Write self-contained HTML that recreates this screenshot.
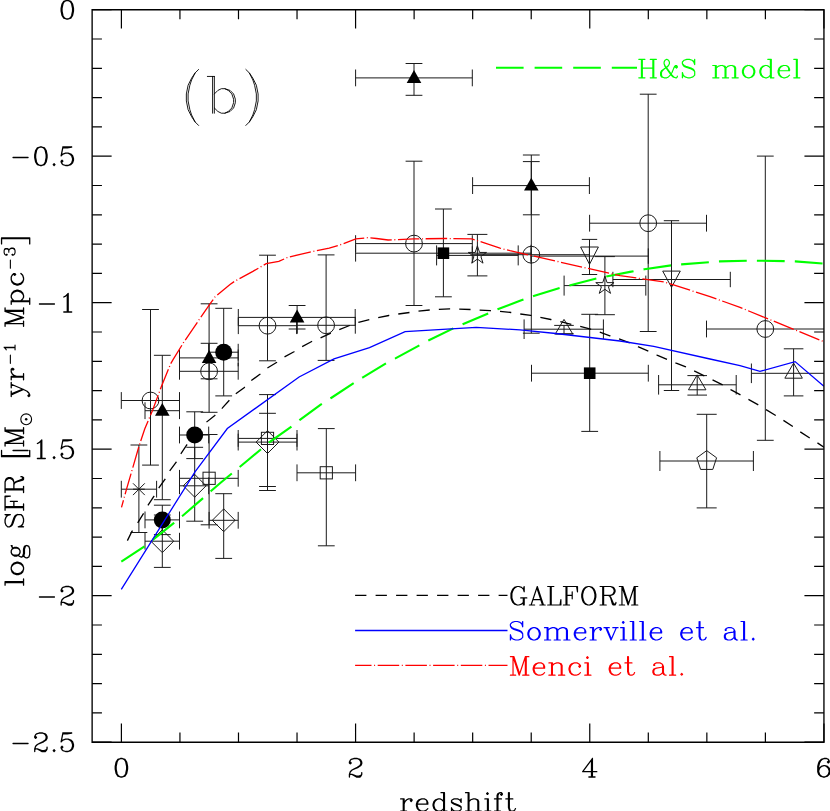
<!DOCTYPE html>
<html><head><meta charset="utf-8"><title>SFR density vs redshift</title>
<style>html,body{margin:0;padding:0;background:#fff;font-family:"Liberation Sans",sans-serif}svg{display:block}</style></head>
<body>
<svg width="830" height="811" viewBox="0 0 830 811">
<rect width="830" height="811" fill="#fff"/>
<defs><clipPath id="c"><rect x="92.13" y="9.7" width="731.81" height="732.5"/></clipPath></defs>
<g clip-path="url(#c)" fill="none">
<path d="M121.3 400.5H179.5M121.3 392.1v16.8M179.5 392.1v16.8M150.5 309.5V465.1M142.1 309.5h16.8M142.1 465.1h16.8M179.5 371.3H238.2M179.5 362.9v16.8M238.2 362.9v16.8M209.1 303.8V412.3M200.7 303.8h16.8M200.7 412.3h16.8M238.3 325.7H296.8M238.3 317.3v16.8M296.8 317.3v16.8M267.5 255.2V360.8M259.1 255.2h16.8M259.1 360.8h16.8M296.8 325.3H355.3M296.8 316.9v16.8M355.3 316.9v16.8M326.1 254.9V360.4M317.7 254.9h16.8M317.7 360.4h16.8M355.6 243.6H472.3M355.6 235.2v16.8M472.3 235.2v16.8M414 161.2V305.5M405.6 161.2h16.8M405.6 305.5h16.8M472.3 254.7H589.4M472.3 246.3v16.8M589.4 246.3v16.8M531.3 161.6V333.2M522.9 161.6h16.8M522.9 333.2h16.8M589.6 223.2H706.5M589.6 214.8v16.8M706.5 214.8v16.8M648.2 94.2V331.5M639.8 94.2h16.8M639.8 331.5h16.8M706.5 329H882M706.5 320.6v16.8M882 320.6v16.8M765.3 156.1V440.3M756.9 156.1h16.8M756.9 440.3h16.8M145 410.7H179.5M145 402.3v16.8M179.5 402.3v16.8M162.3 355.3V499.7M153.9 355.3h16.8M153.9 499.7h16.8M179.5 357.9H238.2M179.5 349.5v16.8M238.2 349.5v16.8M209.1 343.3V378.8M200.7 343.3h16.8M200.7 378.8h16.8M238.3 317.4H355.2M238.3 309v16.8M355.2 309v16.8M297.1 305.5V329M288.7 305.5h16.8M288.7 329h16.8M355.6 77.9H472.3M355.6 69.5v16.8M472.3 69.5v16.8M414 63.5V95.3M405.6 63.5h16.8M405.6 95.3h16.8M472.6 185.6H589.4M472.6 177.2v16.8M589.4 177.2v16.8M531.3 155V214.8M522.9 155h16.8M522.9 214.8h16.8M297.1 329V333.5M208.7 352.2H238.2M208.7 343.8v16.8M238.2 343.8v16.8M223.7 308.3V395.9M215.3 308.3h16.8M215.3 395.9h16.8M179.5 435H208.7M179.5 426.6v16.8M208.7 426.6v16.8M194.7 411.8V458.6M186.3 411.8h16.8M186.3 458.6h16.8M145 519.9H179.5M145 511.5v16.8M179.5 511.5v16.8M162.3 505.2V534.6M153.9 505.2h16.8M153.9 534.6h16.8M355.6 253.2H531M355.6 244.8v16.8M531 244.8v16.8M443.4 209V296.8M435 209h16.8M435 296.8h16.8M531.5 373.2H648.3M531.5 364.8v16.8M648.3 364.8v16.8M589.7 314.3V431.4M581.3 314.3h16.8M581.3 431.4h16.8M179.5 478.3H238.2M179.5 469.9v16.8M238.2 469.9v16.8M209.1 434.5V524.8M200.7 434.5h16.8M200.7 524.8h16.8M238.2 438.4H297M238.2 430v16.8M297 430v16.8M267.5 394.6V486.5M259.1 394.6h16.8M259.1 486.5h16.8M297 472.8H355.6M297 464.4v16.8M355.6 464.4v16.8M326.3 428.6V545.8M317.9 428.6h16.8M317.9 545.8h16.8M145 541.2H179.5M145 532.8v16.8M179.5 532.8v16.8M162.3 515V567.4M153.9 515h16.8M153.9 567.4h16.8M179.5 485.8H208.7M179.5 477.4v16.8M208.7 477.4v16.8M194.7 447.3V521.2M186.3 447.3h16.8M186.3 521.2h16.8M209.1 520.3H238.2M209.1 511.9v16.8M238.2 511.9v16.8M223.7 493.7V558.4M215.3 493.7h16.8M215.3 558.4h16.8M238.2 442.1H297M238.2 433.7v16.8M297 433.7v16.8M267.5 413.3V490.5M259.1 413.3h16.8M259.1 490.5h16.8M121.3 489.2H156.6M121.3 480.8v16.8M156.6 480.8v16.8M138.9 445V532.5M130.5 445h16.8M130.5 532.5h16.8M436.6 255.4H518.2M436.6 245.4v20M518.2 245.4v20M477.4 234.4V275.9M467.4 234.4h20M467.4 275.9h20M564.1 285.6H645.8M564.1 275.6v20M645.8 275.6v20M604.9 256.6V314.7M594.9 256.6h20M594.9 314.7h20M531.2 256.1H648.3M531.2 248.4v15.4M648.3 248.4v15.4M589.5 239.4V274.5M581.8 239.4h15.4M581.8 274.5h15.4M612.9 279.5H730.3M612.9 271.8v15.4M730.3 271.8v15.4M671.5 220.7V390.5M663.8 220.7h15.4M663.8 390.5h15.4M524.1 329.2H603.4M524.1 319.4v19.6M603.4 319.4v19.6M564 325.4V333.8M554.2 325.4h19.6M554.2 333.8h19.6M658.6 384.8H736.2M658.6 375v19.6M736.2 375v19.6M697.2 375.6V395.1M687.4 375.6h19.6M687.4 395.1h19.6M751.4 373.3H882M751.4 363.5v19.6M882 363.5v19.6M793.6 348.8V395.9M783.8 348.8h19.6M783.8 395.9h19.6M659.9 461H753.4M659.9 451v20M753.4 451v20M706.7 414.3V507.9M696.7 414.3h20M696.7 507.9h20" stroke="#1a1a1a" stroke-width="1.0"/>
<g stroke="#1a1a1a" stroke-width="1.0" fill="#fff"></g>
<g stroke="#1a1a1a" stroke-width="1.0" fill="none"><circle cx="150.5" cy="400.5" r="8.4"/><circle cx="209.1" cy="371.3" r="8.4"/><circle cx="267.5" cy="325.7" r="8.4"/><circle cx="326.1" cy="325.3" r="8.4"/><circle cx="414" cy="243.6" r="8.4"/><circle cx="531.3" cy="254.7" r="8.4"/><circle cx="648.2" cy="223.2" r="8.4"/><circle cx="765.3" cy="329" r="8.4"/><rect x="203" y="472.2" width="12.2" height="12.2"/><rect x="261.4" y="432.3" width="12.2" height="12.2"/><rect x="320.2" y="466.7" width="12.2" height="12.2"/><path d="M162.3 529.8L173.7 541.2L162.3 552.6L150.9 541.2Z"/><path d="M194.7 474.4L206.1 485.8L194.7 497.2L183.3 485.8Z"/><path d="M223.7 508.9L235.1 520.3L223.7 531.7L212.3 520.3Z"/><path d="M267.5 430.7L278.9 442.1L267.5 453.5L256.1 442.1Z"/><path d="M133 483.3L144.8 495.1M133 495.1L144.8 483.3M133 489.2H144.8"/><path d="M477.4 245.8L479.56 252.43L486.53 252.43L480.89 256.53L483.04 263.17L477.4 259.07L471.76 263.17L473.91 256.53L468.27 252.43L475.24 252.43Z"/><path d="M604.9 276L607.06 282.63L614.03 282.63L608.39 286.73L610.54 293.37L604.9 289.27L599.26 293.37L601.41 286.73L595.77 282.63L602.74 282.63Z"/><path d="M580.6 247L598.4 247L589.5 264.3Z"/><path d="M662.7 271.1L680.3 271.1L671.5 287.3Z"/><path d="M564 319.4L572.75 334L555.25 334Z"/><path d="M697.2 374.9L705.95 389.8L688.45 389.8Z"/><path d="M793.6 363.1L802.35 378.2L784.85 378.2Z"/><path d="M706.7 450.6L716.59 457.79L712.81 469.41L700.59 469.41L696.81 457.79Z"/></g>
<g fill="#000" stroke="none"><path d="M162.3 402.9L169.6 415.7L155 415.7Z"/><path d="M209.1 350.1L216.4 362.9L201.8 362.9Z"/><path d="M297.1 309.6L304.4 322.4L289.8 322.4Z"/><path d="M414 70.1L421.3 82.9L406.7 82.9Z"/><path d="M531.3 177.8L538.6 190.6L524 190.6Z"/><circle cx="223.7" cy="352.2" r="8.5"/><circle cx="194.7" cy="435" r="8.5"/><circle cx="162.3" cy="519.9" r="8.5"/><rect x="437.6" y="247.4" width="11.6" height="11.6"/><rect x="583.9" y="367.4" width="11.6" height="11.6"/></g>
<path d="M121.3 561.7 L144.5 546.5 L151.8 540.6 L174 522.9 L182.1 516.2 L203.6 497.7 L211 491 L220 483.2 L248.1 460 L269.5 442.1 L292.5 425.8 L299.9 419.9 L320 405.1 L331.1 398 L354.8 382.5 L362.9 377.3 L387.3 362.5 L395.4 358.4 L420 345 L428.9 340.3 L454.8 327.7 L463.3 324 L489.5 312.9 L497.7 309.2 L520 300.8 L525.5 298.8 L533.7 295.9 L561 287.7 L569.2 285.5 L598 278.1 L611.4 275.5 L630 271.9 L644.4 269.2 L672.5 265.2 L681.4 264.4 L710.3 262.1 L719.6 261.4 L748.5 260.7 L757.4 260.7 L786.2 261.1 L795.1 261.4 L824 263.6" stroke="#00ff00" stroke-width="2.1" stroke-dasharray="27.8 10.14"/>
<path d="M127.4 540.6 L131.8 531.7 L137.7 522.9 L143.7 513.2 L148.1 505.1 L154 496.2 L159.2 487.4 L165.1 479.2 L169.5 471.1 L176.2 462.2 L180.6 454.1 L186.6 445.2 L206.5 422.1 L214.8 415.5 L222.2 408.1 L228.9 400.7 L235.5 394 L244.4 387.4 L251.1 380.7 L259.9 374.3 L267.3 368.1 L276.9 362.2 L284.3 357 L294 351.8 L302.1 346.7 L311.7 341.5 L320 338.1 L330.3 333.4 L339.2 329.7 L349.6 325.5 L358.5 322.3 L369.5 319.6 L377.7 317.8 L388.8 315.5 L398.4 314 L409.5 312.5 L418.5 311.1 L429.6 310 L438.8 309.4 L449.6 308.9 L459.2 309.2 L470.3 309.5 L479.2 310 L490.3 310.7 L499.9 311.4 L511 312.5 L519.6 313.9 L530.7 315.4 L539.6 317.3 L550.7 319.5 L579.5 326.2 L590.6 329.2 L599.5 332.1 L609.9 335.8 L618.8 338.8 L630 342.9 L638.5 346.9 L648.9 351.4 L657 355.1 L667.4 359.5 L676.2 363.2 L685.8 366.9 L712.2 379.7 L722.6 384.8 L730.7 389.6 L740.8 395 L748.2 399.2 L758.8 405.1 L765.9 409.5 L775.8 415.5 L783.2 420.2 L792.9 426.6 L800 431.7 L810.3 438.4 L817.3 442.8 L823.9 447.3" stroke="#000" stroke-width="1.3" stroke-dasharray="11.3 9.12"/>
<path d="M121.3 589.4 L195 471.8 L227.3 428.5 L299.1 377 L334 358.8 L369.5 347.7 L405.1 331.6 L476.2 327.3 L520 329.9 L555.9 333.5 L620 341 L653.7 346.3 L710 359 L740 365.7 L760 371.4 L795.1 361.6 L823.9 386.2" stroke="#0000ff" stroke-width="1.3"/>
<path d="M121.5 507.3 L126.6 488.8 L133.3 465.9 L138.9 446.5 L144.8 428.8 L152.9 409.5 L161 387.5 L170.7 363.7 L173.2 359.4 L183.5 342.6 L199.3 319.4 L210.2 303.7 L215.1 296.8 L230 284.4 L235.1 281 L252.9 271.4 L266.2 263.7 L278.8 261.4 L288 257.2 L310 252.1 L329.2 248.1 L339.5 245.1 L355.8 238.9 L367.7 237.7 L376.5 238.5 L388.1 240 L414 238.9 L445.1 238.5 L471.7 238.8 L500 248.1 L510 250.7 L620 275.7 L663.7 281.8 L710 296.6 L740 307.4 L823.9 341.7" stroke="#ff0000" stroke-width="1.3" stroke-dasharray="21.5 2.6 1 2.6" stroke-dashoffset="14.14"/>
<path d="M496 67.8H637" stroke="#00ff00" stroke-width="2.1" stroke-dasharray="27.6 11"/>
<path d="M355.1 595.3H507.5" stroke="#000" stroke-width="1.3" stroke-dasharray="11.3 9.2"/>
<path d="M355.1 630.5H507.5" stroke="#0000ff" stroke-width="1.3"/>
<path d="M355.1 665.3H507.5" stroke="#ff0000" stroke-width="1.3" stroke-dasharray="21.5 2.6 1 2.6" stroke-dashoffset="5.1"/>
</g>
<path d="M92.13 9.7H823.94V742.2H92.13Z" stroke="#000" stroke-width="1.35" fill="none"/>
<path d="M121.4 9.7v18.8 M121.4 742.2v-18.8M179.94 9.7v9.6 M179.94 742.2v-9.6M238.49 9.7v9.6 M238.49 742.2v-9.6M297.03 9.7v9.6 M297.03 742.2v-9.6M355.58 9.7v18.8 M355.58 742.2v-18.8M414.12 9.7v9.6 M414.12 742.2v-9.6M472.67 9.7v9.6 M472.67 742.2v-9.6M531.22 9.7v9.6 M531.22 742.2v-9.6M589.76 9.7v18.8 M589.76 742.2v-18.8M648.3 9.7v9.6 M648.3 742.2v-9.6M706.85 9.7v9.6 M706.85 742.2v-9.6M765.39 9.7v9.6 M765.39 742.2v-9.6M823.94 9.7v18.8 M823.94 742.2v-18.8M92.13 9.7h19.5 M823.94 9.7h-19.5M92.13 39h9.8 M823.94 39h-9.8M92.13 68.3h9.8 M823.94 68.3h-9.8M92.13 97.6h9.8 M823.94 97.6h-9.8M92.13 126.9h9.8 M823.94 126.9h-9.8M92.13 156.2h19.5 M823.94 156.2h-19.5M92.13 185.5h9.8 M823.94 185.5h-9.8M92.13 214.8h9.8 M823.94 214.8h-9.8M92.13 244.1h9.8 M823.94 244.1h-9.8M92.13 273.4h9.8 M823.94 273.4h-9.8M92.13 302.7h19.5 M823.94 302.7h-19.5M92.13 332h9.8 M823.94 332h-9.8M92.13 361.3h9.8 M823.94 361.3h-9.8M92.13 390.6h9.8 M823.94 390.6h-9.8M92.13 419.9h9.8 M823.94 419.9h-9.8M92.13 449.2h19.5 M823.94 449.2h-19.5M92.13 478.5h9.8 M823.94 478.5h-9.8M92.13 507.8h9.8 M823.94 507.8h-9.8M92.13 537.1h9.8 M823.94 537.1h-9.8M92.13 566.4h9.8 M823.94 566.4h-9.8M92.13 595.7h19.5 M823.94 595.7h-19.5M92.13 625h9.8 M823.94 625h-9.8M92.13 654.3h9.8 M823.94 654.3h-9.8M92.13 683.6h9.8 M823.94 683.6h-9.8M92.13 712.9h9.8 M823.94 712.9h-9.8M92.13 742.2h19.5 M823.94 742.2h-19.5" stroke="#000" stroke-width="1.2" fill="none"/>
<g fill="none" stroke-linecap="round" stroke-linejoin="round"><path d="M523.32 589.16 L524.2 591.8 L524.2 586.52 L523.32 589.16 L521.56 587.4 L518.92 586.52 L517.16 586.52 L514.52 587.4 L512.76 589.16 L511.88 590.92 L511 593.56 L511 597.96 L511.88 600.6 L512.76 602.36 L514.52 604.12 L517.16 605 L518.92 605 L521.56 604.12 L523.32 602.36M517.16 586.52 L515.4 587.4 L513.64 589.16 L512.76 590.92 L511.88 593.56 L511.88 597.96 L512.76 600.6 L513.64 602.36 L515.4 604.12 L517.16 605M523.32 597.96 L523.32 605M524.2 597.96 L524.2 605M520.68 597.96 L526.84 597.96M537.27 586.52 L531.11 605M537.27 586.52 L543.43 605M537.27 589.16 L542.55 605M532.87 599.72 L540.79 599.72M529.35 605 L534.63 605M539.91 605 L545.19 605M550.33 586.52 L550.33 605M551.21 586.52 L551.21 605M547.69 586.52 L553.85 586.52M547.69 605 L560.89 605 L560.89 599.72 L560.01 605M566.04 586.52 L566.04 605M566.92 586.52 L566.92 605M572.2 591.8 L572.2 598.84M563.4 586.52 L577.48 586.52 L577.48 591.8 L576.6 586.52M566.92 595.32 L572.2 595.32M563.4 605 L569.56 605M587.91 586.52 L585.27 587.4 L583.51 589.16 L582.63 590.92 L581.75 594.44 L581.75 597.08 L582.63 600.6 L583.51 602.36 L585.27 604.12 L587.91 605 L589.67 605 L592.31 604.12 L594.07 602.36 L594.95 600.6 L595.83 597.08 L595.83 594.44 L594.95 590.92 L594.07 589.16 L592.31 587.4 L589.67 586.52 L587.91 586.52M587.91 586.52 L586.15 587.4 L584.39 589.16 L583.51 590.92 L582.63 594.44 L582.63 597.08 L583.51 600.6 L584.39 602.36 L586.15 604.12 L587.91 605M589.67 605 L591.43 604.12 L593.19 602.36 L594.07 600.6 L594.95 597.08 L594.95 594.44 L594.07 590.92 L593.19 589.16 L591.43 587.4 L589.67 586.52M602.73 586.52 L602.73 605M603.61 586.52 L603.61 605M600.09 586.52 L610.65 586.52 L613.29 587.4 L614.17 588.28 L615.05 590.04 L615.05 591.8 L614.17 593.56 L613.29 594.44 L610.65 595.32 L603.61 595.32M610.65 586.52 L612.41 587.4 L613.29 588.28 L614.17 590.04 L614.17 591.8 L613.29 593.56 L612.41 594.44 L610.65 595.32M600.09 605 L606.25 605M608.01 595.32 L609.77 596.2 L610.65 597.08 L613.29 603.24 L614.17 604.12 L615.05 604.12 L615.93 603.24M609.77 596.2 L610.65 597.96 L612.41 604.12 L613.29 605 L615.05 605 L615.93 603.24 L615.93 602.36M621.96 586.52 L621.96 605M622.84 586.52 L628.12 602.36M621.96 586.52 L628.12 605M634.28 586.52 L628.12 605M634.28 586.52 L634.28 605M635.16 586.52 L635.16 605M619.32 586.52 L622.84 586.52M634.28 586.52 L637.8 586.52M619.32 605 L624.6 605M631.64 605 L637.8 605" stroke="#000" stroke-width="1.2"/><path d="M521.84 624.16 L522.72 621.52 L522.72 626.8 L521.84 624.16 L520.08 622.4 L517.44 621.52 L514.8 621.52 L512.16 622.4 L510.4 624.16 L510.4 625.92 L511.28 627.68 L512.16 628.56 L513.92 629.44 L519.2 631.2 L520.96 632.08 L522.72 633.84M510.4 625.92 L512.16 627.68 L513.92 628.56 L519.2 630.32 L520.96 631.2 L521.84 632.08 L522.72 633.84 L522.72 637.36 L520.96 639.12 L518.32 640 L515.68 640 L513.04 639.12 L511.28 637.36 L510.4 634.72 L510.4 640 L511.28 637.36M533.17 627.68 L530.53 628.56 L528.77 630.32 L527.89 632.96 L527.89 634.72 L528.77 637.36 L530.53 639.12 L533.17 640 L534.93 640 L537.57 639.12 L539.33 637.36 L540.21 634.72 L540.21 632.96 L539.33 630.32 L537.57 628.56 L534.93 627.68 L533.17 627.68M533.17 627.68 L531.41 628.56 L529.65 630.32 L528.77 632.96 L528.77 634.72 L529.65 637.36 L531.41 639.12 L533.17 640M534.93 640 L536.69 639.12 L538.45 637.36 L539.33 634.72 L539.33 632.96 L538.45 630.32 L536.69 628.56 L534.93 627.68M547.13 627.68 L547.13 640M548.01 627.68 L548.01 640M548.01 630.32 L549.77 628.56 L552.41 627.68 L554.17 627.68 L556.81 628.56 L557.69 630.32 L557.69 640M554.17 627.68 L555.93 628.56 L556.81 630.32 L556.81 640M557.69 630.32 L559.45 628.56 L562.09 627.68 L563.85 627.68 L566.49 628.56 L567.37 630.32 L567.37 640M563.85 627.68 L565.61 628.56 L566.49 630.32 L566.49 640M544.49 627.68 L548.01 627.68M544.49 640 L550.65 640M554.17 640 L560.33 640M563.85 640 L570.01 640M575.18 632.96 L585.74 632.96 L585.74 631.2 L584.86 629.44 L583.98 628.56 L582.22 627.68 L579.58 627.68 L576.94 628.56 L575.18 630.32 L574.3 632.96 L574.3 634.72 L575.18 637.36 L576.94 639.12 L579.58 640 L581.34 640 L583.98 639.12 L585.74 637.36M584.86 632.96 L584.86 630.32 L583.98 628.56M579.58 627.68 L577.82 628.56 L576.06 630.32 L575.18 632.96 L575.18 634.72 L576.06 637.36 L577.82 639.12 L579.58 640M592.67 627.68 L592.67 640M593.55 627.68 L593.55 640M593.55 632.96 L594.43 630.32 L596.19 628.56 L597.95 627.68 L600.59 627.68 L601.47 628.56 L601.47 629.44 L600.59 630.32 L599.71 629.44 L600.59 628.56M590.03 627.68 L593.55 627.68M590.03 640 L596.19 640M605.75 627.68 L611.03 640M606.63 627.68 L611.03 638.24M616.31 627.68 L611.03 640M603.99 627.68 L609.27 627.68M612.79 627.68 L618.07 627.68M623.24 621.52 L622.36 622.4 L623.24 623.28 L624.12 622.4 L623.24 621.52M623.24 627.68 L623.24 640M624.12 627.68 L624.12 640M620.6 627.68 L624.12 627.68M620.6 640 L626.76 640M632.8 621.52 L632.8 640M633.68 621.52 L633.68 640M630.16 621.52 L633.68 621.52M630.16 640 L636.32 640M642.37 621.52 L642.37 640M643.25 621.52 L643.25 640M639.73 621.52 L643.25 621.52M639.73 640 L645.89 640M651.06 632.96 L661.62 632.96 L661.62 631.2 L660.74 629.44 L659.86 628.56 L658.1 627.68 L655.46 627.68 L652.82 628.56 L651.06 630.32 L650.18 632.96 L650.18 634.72 L651.06 637.36 L652.82 639.12 L655.46 640 L657.22 640 L659.86 639.12 L661.62 637.36M660.74 632.96 L660.74 630.32 L659.86 628.56M655.46 627.68 L653.7 628.56 L651.94 630.32 L651.06 632.96 L651.06 634.72 L651.94 637.36 L653.7 639.12 L655.46 640M681.63 632.96 L692.19 632.96 L692.19 631.2 L691.31 629.44 L690.43 628.56 L688.67 627.68 L686.03 627.68 L683.39 628.56 L681.63 630.32 L680.75 632.96 L680.75 634.72 L681.63 637.36 L683.39 639.12 L686.03 640 L687.79 640 L690.43 639.12 L692.19 637.36M691.31 632.96 L691.31 630.32 L690.43 628.56M686.03 627.68 L684.27 628.56 L682.51 630.32 L681.63 632.96 L681.63 634.72 L682.51 637.36 L684.27 639.12 L686.03 640M699.12 621.52 L699.12 636.48 L700 639.12 L701.76 640 L703.52 640 L705.28 639.12 L706.16 637.36M700 621.52 L700 636.48 L700.88 639.12 L701.76 640M696.48 627.68 L703.52 627.68M726.17 629.44 L726.17 630.32 L725.29 630.32 L725.29 629.44 L726.17 628.56 L727.93 627.68 L731.45 627.68 L733.21 628.56 L734.09 629.44 L734.97 631.2 L734.97 637.36 L735.85 639.12 L736.73 640M734.09 629.44 L734.09 637.36 L734.97 639.12 L736.73 640 L737.61 640M734.09 631.2 L733.21 632.08 L727.93 632.96 L725.29 633.84 L724.41 635.6 L724.41 637.36 L725.29 639.12 L727.93 640 L730.57 640 L732.33 639.12 L734.09 637.36M727.93 632.96 L726.17 633.84 L725.29 635.6 L725.29 637.36 L726.17 639.12 L727.93 640M743.65 621.52 L743.65 640M744.53 621.52 L744.53 640M741.01 621.52 L744.53 621.52M741.01 640 L747.17 640M753.22 638.24 L752.34 639.12 L753.22 640 L754.1 639.12 L753.22 638.24" stroke="#0000ff" stroke-width="1.2"/><path d="M513.04 656.72 L513.04 675.2M513.92 656.72 L519.2 672.56M513.04 656.72 L519.2 675.2M525.36 656.72 L519.2 675.2M525.36 656.72 L525.36 675.2M526.24 656.72 L526.24 675.2M510.4 656.72 L513.92 656.72M525.36 656.72 L528.88 656.72M510.4 675.2 L515.68 675.2M522.72 675.2 L528.88 675.2M534.05 668.16 L544.61 668.16 L544.61 666.4 L543.73 664.64 L542.85 663.76 L541.09 662.88 L538.45 662.88 L535.81 663.76 L534.05 665.52 L533.17 668.16 L533.17 669.92 L534.05 672.56 L535.81 674.32 L538.45 675.2 L540.21 675.2 L542.85 674.32 L544.61 672.56M543.73 668.16 L543.73 665.52 L542.85 663.76M538.45 662.88 L536.69 663.76 L534.93 665.52 L534.05 668.16 L534.05 669.92 L534.93 672.56 L536.69 674.32 L538.45 675.2M551.55 662.88 L551.55 675.2M552.43 662.88 L552.43 675.2M552.43 665.52 L554.19 663.76 L556.83 662.88 L558.59 662.88 L561.23 663.76 L562.11 665.52 L562.11 675.2M558.59 662.88 L560.35 663.76 L561.23 665.52 L561.23 675.2M548.91 662.88 L552.43 662.88M548.91 675.2 L555.07 675.2M558.59 675.2 L564.75 675.2M579.6 665.52 L578.72 666.4 L579.6 667.28 L580.48 666.4 L580.48 665.52 L578.72 663.76 L576.96 662.88 L574.32 662.88 L571.68 663.76 L569.92 665.52 L569.04 668.16 L569.04 669.92 L569.92 672.56 L571.68 674.32 L574.32 675.2 L576.08 675.2 L578.72 674.32 L580.48 672.56M574.32 662.88 L572.56 663.76 L570.8 665.52 L569.92 668.16 L569.92 669.92 L570.8 672.56 L572.56 674.32 L574.32 675.2M587.42 656.72 L586.54 657.6 L587.42 658.48 L588.3 657.6 L587.42 656.72M587.42 662.88 L587.42 675.2M588.3 662.88 L588.3 675.2M584.78 662.88 L588.3 662.88M584.78 675.2 L590.94 675.2M610.09 668.16 L620.65 668.16 L620.65 666.4 L619.77 664.64 L618.89 663.76 L617.13 662.88 L614.49 662.88 L611.85 663.76 L610.09 665.52 L609.21 668.16 L609.21 669.92 L610.09 672.56 L611.85 674.32 L614.49 675.2 L616.25 675.2 L618.89 674.32 L620.65 672.56M619.77 668.16 L619.77 665.52 L618.89 663.76M614.49 662.88 L612.73 663.76 L610.97 665.52 L610.09 668.16 L610.09 669.92 L610.97 672.56 L612.73 674.32 L614.49 675.2M627.58 656.72 L627.58 671.68 L628.46 674.32 L630.22 675.2 L631.98 675.2 L633.74 674.32 L634.62 672.56M628.46 656.72 L628.46 671.68 L629.34 674.32 L630.22 675.2M624.94 662.88 L631.98 662.88M654.65 664.64 L654.65 665.52 L653.77 665.52 L653.77 664.64 L654.65 663.76 L656.41 662.88 L659.93 662.88 L661.69 663.76 L662.57 664.64 L663.45 666.4 L663.45 672.56 L664.33 674.32 L665.21 675.2M662.57 664.64 L662.57 672.56 L663.45 674.32 L665.21 675.2 L666.09 675.2M662.57 666.4 L661.69 667.28 L656.41 668.16 L653.77 669.04 L652.89 670.8 L652.89 672.56 L653.77 674.32 L656.41 675.2 L659.05 675.2 L660.81 674.32 L662.57 672.56M656.41 668.16 L654.65 669.04 L653.77 670.8 L653.77 672.56 L654.65 674.32 L656.41 675.2M672.15 656.72 L672.15 675.2M673.03 656.72 L673.03 675.2M669.51 656.72 L673.03 656.72M669.51 675.2 L675.67 675.2M681.72 673.44 L680.84 674.32 L681.72 675.2 L682.6 674.32 L681.72 673.44" stroke="#ff0000" stroke-width="1.2"/><path d="M641.44 59.32 L641.44 77.8M642.32 59.32 L642.32 77.8M652.88 59.32 L652.88 77.8M653.76 59.32 L653.76 77.8M638.8 59.32 L644.96 59.32M650.24 59.32 L656.4 59.32M642.32 68.12 L652.88 68.12M638.8 77.8 L644.96 77.8M650.24 77.8 L656.4 77.8M676.43 66.36 L675.55 67.24 L676.43 68.12 L677.31 67.24 L677.31 66.36 L676.43 65.48 L675.55 65.48 L674.67 66.36 L673.79 68.12 L672.03 72.52 L670.27 75.16 L668.51 76.92 L666.75 77.8 L664.11 77.8 L661.47 76.92 L660.59 75.16 L660.59 72.52 L661.47 70.76 L666.75 67.24 L668.51 65.48 L669.39 63.72 L669.39 61.96 L668.51 60.2 L666.75 59.32 L664.99 60.2 L664.11 61.96 L664.11 63.72 L664.99 66.36 L666.75 69 L671.15 75.16 L672.91 76.92 L675.55 77.8 L676.43 77.8 L677.31 76.92 L677.31 76.04M664.11 77.8 L662.35 76.92 L661.47 75.16 L661.47 72.52 L662.35 70.76 L664.11 69M664.11 63.72 L664.99 65.48 L672.03 75.16 L673.79 76.92 L675.55 77.8M693.82 61.96 L694.7 59.32 L694.7 64.6 L693.82 61.96 L692.06 60.2 L689.42 59.32 L686.78 59.32 L684.14 60.2 L682.38 61.96 L682.38 63.72 L683.26 65.48 L684.14 66.36 L685.9 67.24 L691.18 69 L692.94 69.88 L694.7 71.64M682.38 63.72 L684.14 65.48 L685.9 66.36 L691.18 68.12 L692.94 69 L693.82 69.88 L694.7 71.64 L694.7 75.16 L692.94 76.92 L690.3 77.8 L687.66 77.8 L685.02 76.92 L683.26 75.16 L682.38 72.52 L682.38 77.8 L683.26 75.16M715.39 65.48 L715.39 77.8M716.27 65.48 L716.27 77.8M716.27 68.12 L718.03 66.36 L720.67 65.48 L722.43 65.48 L725.07 66.36 L725.95 68.12 L725.95 77.8M722.43 65.48 L724.19 66.36 L725.07 68.12 L725.07 77.8M725.95 68.12 L727.71 66.36 L730.35 65.48 L732.11 65.48 L734.75 66.36 L735.63 68.12 L735.63 77.8M732.11 65.48 L733.87 66.36 L734.75 68.12 L734.75 77.8M712.75 65.48 L716.27 65.48M712.75 77.8 L718.91 77.8M722.43 77.8 L728.59 77.8M732.11 77.8 L738.27 77.8M747.74 65.48 L745.1 66.36 L743.34 68.12 L742.46 70.76 L742.46 72.52 L743.34 75.16 L745.1 76.92 L747.74 77.8 L749.5 77.8 L752.14 76.92 L753.9 75.16 L754.78 72.52 L754.78 70.76 L753.9 68.12 L752.14 66.36 L749.5 65.48 L747.74 65.48M747.74 65.48 L745.98 66.36 L744.22 68.12 L743.34 70.76 L743.34 72.52 L744.22 75.16 L745.98 76.92 L747.74 77.8M749.5 77.8 L751.26 76.92 L753.02 75.16 L753.9 72.52 L753.9 70.76 L753.02 68.12 L751.26 66.36 L749.5 65.48M770.41 59.32 L770.41 77.8M771.29 59.32 L771.29 77.8M770.41 68.12 L768.65 66.36 L766.89 65.48 L765.13 65.48 L762.49 66.36 L760.73 68.12 L759.85 70.76 L759.85 72.52 L760.73 75.16 L762.49 76.92 L765.13 77.8 L766.89 77.8 L768.65 76.92 L770.41 75.16M765.13 65.48 L763.37 66.36 L761.61 68.12 L760.73 70.76 L760.73 72.52 L761.61 75.16 L763.37 76.92 L765.13 77.8M767.77 59.32 L771.29 59.32M770.41 77.8 L773.93 77.8M778.99 70.76 L789.55 70.76 L789.55 69 L788.67 67.24 L787.79 66.36 L786.03 65.48 L783.39 65.48 L780.75 66.36 L778.99 68.12 L778.11 70.76 L778.11 72.52 L778.99 75.16 L780.75 76.92 L783.39 77.8 L785.15 77.8 L787.79 76.92 L789.55 75.16M788.67 70.76 L788.67 68.12 L787.79 66.36M783.39 65.48 L781.63 66.36 L779.87 68.12 L778.99 70.76 L778.99 72.52 L779.87 75.16 L781.63 76.92 L783.39 77.8M796.38 59.32 L796.38 77.8M797.26 59.32 L797.26 77.8M793.74 59.32 L797.26 59.32M793.74 77.8 L799.9 77.8" stroke="#00ff00" stroke-width="1.2"/><path d="M66.42 0.52 L63.78 1.4 L62.02 4.04 L61.14 8.44 L61.14 11.08 L62.02 15.48 L63.78 18.12 L66.42 19 L68.18 19 L70.82 18.12 L72.58 15.48 L73.46 11.08 L73.46 8.44 L72.58 4.04 L70.82 1.4 L68.18 0.52 L66.42 0.52M66.42 0.52 L64.66 1.4 L63.78 2.28 L62.9 4.04 L62.02 8.44 L62.02 11.08 L62.9 15.48 L63.78 17.24 L64.66 18.12 L66.42 19M68.18 19 L69.94 18.12 L70.82 17.24 L71.7 15.48 L72.58 11.08 L72.58 8.44 L71.7 4.04 L70.82 2.28 L69.94 1.4 L68.18 0.52" stroke="#000" stroke-width="1.3"/><path d="M40.02 147.02 L37.38 147.9 L35.62 150.54 L34.74 154.94 L34.74 157.58 L35.62 161.98 L37.38 164.62 L40.02 165.5 L41.78 165.5 L44.42 164.62 L46.18 161.98 L47.06 157.58 L47.06 154.94 L46.18 150.54 L44.42 147.9 L41.78 147.02 L40.02 147.02M40.02 147.02 L38.26 147.9 L37.38 148.78 L36.5 150.54 L35.62 154.94 L35.62 157.58 L36.5 161.98 L37.38 163.74 L38.26 164.62 L40.02 165.5M41.78 165.5 L43.54 164.62 L44.42 163.74 L45.3 161.98 L46.18 157.58 L46.18 154.94 L45.3 150.54 L44.42 148.78 L43.54 147.9 L41.78 147.02M54.1 163.74 L53.22 164.62 L54.1 165.5 L54.98 164.62 L54.1 163.74M62.9 147.02 L61.14 155.82M61.14 155.82 L62.9 154.06 L65.54 153.18 L68.18 153.18 L70.82 154.06 L72.58 155.82 L73.46 158.46 L73.46 160.22 L72.58 162.86 L70.82 164.62 L68.18 165.5 L65.54 165.5 L62.9 164.62 L62.02 163.74 L61.14 161.98 L61.14 161.1 L62.02 160.22 L62.9 161.1 L62.02 161.98M68.18 153.18 L69.94 154.06 L71.7 155.82 L72.58 158.46 L72.58 160.22 L71.7 162.86 L69.94 164.62 L68.18 165.5M62.9 147.02 L71.7 147.02M62.9 147.9 L67.3 147.9 L71.7 147.02M13.05 157.5H28.05" stroke="#000" stroke-width="1.3"/><path d="M63.78 297.04 L65.54 296.16 L68.18 293.52 L68.18 312M67.3 294.4 L67.3 312M63.78 312 L71.7 312M39.45 304H54.45" stroke="#000" stroke-width="1.3"/><path d="M37.38 443.54 L39.14 442.66 L41.78 440.02 L41.78 458.5M40.9 440.9 L40.9 458.5M37.38 458.5 L45.3 458.5M54.1 456.74 L53.22 457.62 L54.1 458.5 L54.98 457.62 L54.1 456.74M62.9 440.02 L61.14 448.82M61.14 448.82 L62.9 447.06 L65.54 446.18 L68.18 446.18 L70.82 447.06 L72.58 448.82 L73.46 451.46 L73.46 453.22 L72.58 455.86 L70.82 457.62 L68.18 458.5 L65.54 458.5 L62.9 457.62 L62.02 456.74 L61.14 454.98 L61.14 454.1 L62.02 453.22 L62.9 454.1 L62.02 454.98M68.18 446.18 L69.94 447.06 L71.7 448.82 L72.58 451.46 L72.58 453.22 L71.7 455.86 L69.94 457.62 L68.18 458.5M62.9 440.02 L71.7 440.02M62.9 440.9 L67.3 440.9 L71.7 440.02M13.05 450.5H28.05" stroke="#000" stroke-width="1.3"/><path d="M62.02 590.04 L62.9 590.92 L62.02 591.8 L61.14 590.92 L61.14 590.04 L62.02 588.28 L62.9 587.4 L65.54 586.52 L69.06 586.52 L71.7 587.4 L72.58 588.28 L73.46 590.04 L73.46 591.8 L72.58 593.56 L69.94 595.32 L65.54 597.08 L63.78 597.96 L62.02 599.72 L61.14 602.36 L61.14 605M69.06 586.52 L70.82 587.4 L71.7 588.28 L72.58 590.04 L72.58 591.8 L71.7 593.56 L69.06 595.32 L65.54 597.08M61.14 603.24 L62.02 602.36 L63.78 602.36 L68.18 604.12 L70.82 604.12 L72.58 603.24 L73.46 602.36M63.78 602.36 L68.18 605 L71.7 605 L72.58 604.12 L73.46 602.36 L73.46 600.6M39.45 597H54.45" stroke="#000" stroke-width="1.3"/><path d="M35.62 736.54 L36.5 737.42 L35.62 738.3 L34.74 737.42 L34.74 736.54 L35.62 734.78 L36.5 733.9 L39.14 733.02 L42.66 733.02 L45.3 733.9 L46.18 734.78 L47.06 736.54 L47.06 738.3 L46.18 740.06 L43.54 741.82 L39.14 743.58 L37.38 744.46 L35.62 746.22 L34.74 748.86 L34.74 751.5M42.66 733.02 L44.42 733.9 L45.3 734.78 L46.18 736.54 L46.18 738.3 L45.3 740.06 L42.66 741.82 L39.14 743.58M34.74 749.74 L35.62 748.86 L37.38 748.86 L41.78 750.62 L44.42 750.62 L46.18 749.74 L47.06 748.86M37.38 748.86 L41.78 751.5 L45.3 751.5 L46.18 750.62 L47.06 748.86 L47.06 747.1M54.1 749.74 L53.22 750.62 L54.1 751.5 L54.98 750.62 L54.1 749.74M62.9 733.02 L61.14 741.82M61.14 741.82 L62.9 740.06 L65.54 739.18 L68.18 739.18 L70.82 740.06 L72.58 741.82 L73.46 744.46 L73.46 746.22 L72.58 748.86 L70.82 750.62 L68.18 751.5 L65.54 751.5 L62.9 750.62 L62.02 749.74 L61.14 747.98 L61.14 747.1 L62.02 746.22 L62.9 747.1 L62.02 747.98M68.18 739.18 L69.94 740.06 L71.7 741.82 L72.58 744.46 L72.58 746.22 L71.7 748.86 L69.94 750.62 L68.18 751.5M62.9 733.02 L71.7 733.02M62.9 733.9 L67.3 733.9 L71.7 733.02M13.05 743.5H28.05" stroke="#000" stroke-width="1.3"/><path d="M120.52 758.52 L117.88 759.4 L116.12 762.04 L115.24 766.44 L115.24 769.08 L116.12 773.48 L117.88 776.12 L120.52 777 L122.28 777 L124.92 776.12 L126.68 773.48 L127.56 769.08 L127.56 766.44 L126.68 762.04 L124.92 759.4 L122.28 758.52 L120.52 758.52M120.52 758.52 L118.76 759.4 L117.88 760.28 L117 762.04 L116.12 766.44 L116.12 769.08 L117 773.48 L117.88 775.24 L118.76 776.12 L120.52 777M122.28 777 L124.04 776.12 L124.92 775.24 L125.8 773.48 L126.68 769.08 L126.68 766.44 L125.8 762.04 L124.92 760.28 L124.04 759.4 L122.28 758.52" stroke="#000" stroke-width="1.3"/><path d="M350.3 762.04 L351.18 762.92 L350.3 763.8 L349.42 762.92 L349.42 762.04 L350.3 760.28 L351.18 759.4 L353.82 758.52 L357.34 758.52 L359.98 759.4 L360.86 760.28 L361.74 762.04 L361.74 763.8 L360.86 765.56 L358.22 767.32 L353.82 769.08 L352.06 769.96 L350.3 771.72 L349.42 774.36 L349.42 777M357.34 758.52 L359.1 759.4 L359.98 760.28 L360.86 762.04 L360.86 763.8 L359.98 765.56 L357.34 767.32 L353.82 769.08M349.42 775.24 L350.3 774.36 L352.06 774.36 L356.46 776.12 L359.1 776.12 L360.86 775.24 L361.74 774.36M352.06 774.36 L356.46 777 L359.98 777 L360.86 776.12 L361.74 774.36 L361.74 772.6" stroke="#000" stroke-width="1.3"/><path d="M591.52 760.28 L591.52 777M592.4 758.52 L592.4 777M592.4 758.52 L582.72 771.72 L596.8 771.72M588.88 777 L595.04 777" stroke="#000" stroke-width="1.3"/><path d="M828.34 761.16 L827.46 762.04 L828.34 762.92 L829.22 762.04 L829.22 761.16 L828.34 759.4 L826.58 758.52 L823.94 758.52 L821.3 759.4 L819.54 761.16 L818.66 762.92 L817.78 766.44 L817.78 771.72 L818.66 774.36 L820.42 776.12 L823.06 777 L824.82 777 L827.46 776.12 L829.22 774.36 L830.1 771.72 L830.1 770.84 L829.22 768.2 L827.46 766.44 L824.82 765.56 L823.94 765.56 L821.3 766.44 L819.54 768.2 L818.66 770.84M823.94 758.52 L822.18 759.4 L820.42 761.16 L819.54 762.92 L818.66 766.44 L818.66 771.72 L819.54 774.36 L821.3 776.12 L823.06 777M824.82 777 L826.58 776.12 L828.34 774.36 L829.22 771.72 L829.22 770.84 L828.34 768.2 L826.58 766.44 L824.82 765.56" stroke="#000" stroke-width="1.3"/><path d="M403.24 798.88 L403.24 811.2M404.12 798.88 L404.12 811.2M404.12 804.16 L405 801.52 L406.76 799.76 L408.52 798.88 L411.16 798.88 L412.04 799.76 L412.04 800.64 L411.16 801.52 L410.28 800.64 L411.16 799.76M400.6 798.88 L404.12 798.88M400.6 811.2 L406.76 811.2M417.27 804.16 L427.83 804.16 L427.83 802.4 L426.95 800.64 L426.07 799.76 L424.31 798.88 L421.67 798.88 L419.03 799.76 L417.27 801.52 L416.39 804.16 L416.39 805.92 L417.27 808.56 L419.03 810.32 L421.67 811.2 L423.43 811.2 L426.07 810.32 L427.83 808.56M426.95 804.16 L426.95 801.52 L426.07 799.76M421.67 798.88 L419.91 799.76 L418.15 801.52 L417.27 804.16 L417.27 805.92 L418.15 808.56 L419.91 810.32 L421.67 811.2M443.61 792.72 L443.61 811.2M444.49 792.72 L444.49 811.2M443.61 801.52 L441.85 799.76 L440.09 798.88 L438.33 798.88 L435.69 799.76 L433.93 801.52 L433.05 804.16 L433.05 805.92 L433.93 808.56 L435.69 810.32 L438.33 811.2 L440.09 811.2 L441.85 810.32 L443.61 808.56M438.33 798.88 L436.57 799.76 L434.81 801.52 L433.93 804.16 L433.93 805.92 L434.81 808.56 L436.57 810.32 L438.33 811.2M440.97 792.72 L444.49 792.72M443.61 811.2 L447.13 811.2M460.28 800.64 L461.16 798.88 L461.16 802.4 L460.28 800.64 L459.4 799.76 L457.64 798.88 L454.12 798.88 L452.36 799.76 L451.48 800.64 L451.48 802.4 L452.36 803.28 L454.12 804.16 L458.52 805.92 L460.28 806.8 L461.16 807.68M451.48 801.52 L452.36 802.4 L454.12 803.28 L458.52 805.04 L460.28 805.92 L461.16 806.8 L461.16 809.44 L460.28 810.32 L458.52 811.2 L455 811.2 L453.24 810.32 L452.36 809.44 L451.48 807.68 L451.48 811.2 L452.36 809.44M468.14 792.72 L468.14 811.2M469.02 792.72 L469.02 811.2M469.02 801.52 L470.78 799.76 L473.42 798.88 L475.18 798.88 L477.82 799.76 L478.7 801.52 L478.7 811.2M475.18 798.88 L476.94 799.76 L477.82 801.52 L477.82 811.2M465.5 792.72 L469.02 792.72M465.5 811.2 L471.66 811.2M475.18 811.2 L481.34 811.2M487.45 792.72 L486.57 793.6 L487.45 794.48 L488.33 793.6 L487.45 792.72M487.45 798.88 L487.45 811.2M488.33 798.88 L488.33 811.2M484.81 798.88 L488.33 798.88M484.81 811.2 L490.97 811.2M501.47 793.6 L500.59 794.48 L501.47 795.36 L502.35 794.48 L502.35 793.6 L501.47 792.72 L499.71 792.72 L497.95 793.6 L497.07 795.36 L497.07 811.2M499.71 792.72 L498.83 793.6 L497.95 795.36 L497.95 811.2M494.43 798.88 L501.47 798.88M494.43 811.2 L500.59 811.2M508.46 792.72 L508.46 807.68 L509.34 810.32 L511.1 811.2 L512.86 811.2 L514.62 810.32 L515.5 808.56M509.34 792.72 L509.34 807.68 L510.22 810.32 L511.1 811.2M505.82 798.88 L512.86 798.88" stroke="#000" stroke-width="1.2"/><path d="M198.6 69.45 L195.1 72.95 L191.6 78.2 L188.1 85.2 L186.35 93.95 L186.35 100.95 L188.1 109.7 L191.6 116.7 L195.1 121.95 L198.6 125.45M195.1 72.95 L191.6 79.95 L189.85 85.2 L188.1 93.95 L188.1 100.95 L189.85 109.7 L191.6 114.95 L195.1 121.95M212.6 76.45 L212.6 113.2M214.35 76.45 L214.35 113.2M214.35 93.95 L217.85 90.45 L221.35 88.7 L224.85 88.7 L230.1 90.45 L233.6 93.95 L235.35 99.2 L235.35 102.7 L233.6 107.95 L230.1 111.45 L224.85 113.2 L221.35 113.2 L217.85 111.45 L214.35 107.95M224.85 88.7 L228.35 90.45 L231.85 93.95 L233.6 99.2 L233.6 102.7 L231.85 107.95 L228.35 111.45 L224.85 113.2M207.35 76.45 L214.35 76.45M245.85 69.45 L249.35 72.95 L252.85 78.2 L256.35 85.2 L258.1 93.95 L258.1 100.95 L256.35 109.7 L252.85 116.7 L249.35 121.95 L245.85 125.45M249.35 72.95 L252.85 79.95 L254.6 85.2 L256.35 93.95 L256.35 100.95 L254.6 109.7 L252.85 114.95 L249.35 121.95" stroke="#000" stroke-width="0.9"/></g>
<g transform="translate(23.55,0) rotate(-90)" fill="none" stroke="#000" stroke-linecap="round" stroke-linejoin="round"><path d="M-582.51 -18.48 L-582.51 0M-581.63 -18.48 L-581.63 0M-585.15 -18.48 L-581.63 -18.48M-585.15 0 L-578.99 0M-569.31 -12.32 L-571.95 -11.44 L-573.71 -9.68 L-574.59 -7.04 L-574.59 -5.28 L-573.71 -2.64 L-571.95 -0.88 L-569.31 0 L-567.55 0 L-564.91 -0.88 L-563.15 -2.64 L-562.27 -5.28 L-562.27 -7.04 L-563.15 -9.68 L-564.91 -11.44 L-567.55 -12.32 L-569.31 -12.32M-569.31 -12.32 L-571.07 -11.44 L-572.83 -9.68 L-573.71 -7.04 L-573.71 -5.28 L-572.83 -2.64 L-571.07 -0.88 L-569.31 0M-567.55 0 L-565.79 -0.88 L-564.03 -2.64 L-563.15 -5.28 L-563.15 -7.04 L-564.03 -9.68 L-565.79 -11.44 L-567.55 -12.32M-552.59 -12.32 L-554.35 -11.44 L-555.23 -10.56 L-556.11 -8.8 L-556.11 -7.04 L-555.23 -5.28 L-554.35 -4.4 L-552.59 -3.52 L-550.83 -3.52 L-549.07 -4.4 L-548.19 -5.28 L-547.31 -7.04 L-547.31 -8.8 L-548.19 -10.56 L-549.07 -11.44 L-550.83 -12.32 L-552.59 -12.32M-554.35 -11.44 L-555.23 -9.68 L-555.23 -6.16 L-554.35 -4.4M-549.07 -4.4 L-548.19 -6.16 L-548.19 -9.68 L-549.07 -11.44M-548.19 -10.56 L-547.31 -11.44 L-545.55 -12.32 L-545.55 -11.44 L-547.31 -11.44M-555.23 -5.28 L-556.11 -4.4 L-556.99 -2.64 L-556.99 -1.76 L-556.11 0 L-553.47 0.88 L-549.07 0.88 L-546.43 1.76 L-545.55 2.64M-556.99 -1.76 L-556.11 -0.88 L-553.47 0 L-549.07 0 L-546.43 0.88 L-545.55 2.64 L-545.55 3.52 L-546.43 5.28 L-549.07 6.16 L-554.35 6.16 L-556.99 5.28 L-557.87 3.52 L-557.87 2.64 L-556.99 0.88 L-554.35 0M-515.41 -15.84 L-514.53 -18.48 L-514.53 -13.2 L-515.41 -15.84 L-517.17 -17.6 L-519.81 -18.48 L-522.45 -18.48 L-525.09 -17.6 L-526.85 -15.84 L-526.85 -14.08 L-525.97 -12.32 L-525.09 -11.44 L-523.33 -10.56 L-518.05 -8.8 L-516.29 -7.92 L-514.53 -6.16M-526.85 -14.08 L-525.09 -12.32 L-523.33 -11.44 L-518.05 -9.68 L-516.29 -8.8 L-515.41 -7.92 L-514.53 -6.16 L-514.53 -2.64 L-516.29 -0.88 L-518.93 0 L-521.57 0 L-524.21 -0.88 L-525.97 -2.64 L-526.85 -5.28 L-526.85 0 L-525.97 -2.64M-507.49 -18.48 L-507.49 0M-506.61 -18.48 L-506.61 0M-501.33 -13.2 L-501.33 -6.16M-510.13 -18.48 L-496.05 -18.48 L-496.05 -13.2 L-496.93 -18.48M-506.61 -9.68 L-501.33 -9.68M-510.13 0 L-503.97 0M-489.89 -18.48 L-489.89 0M-489.01 -18.48 L-489.01 0M-492.53 -18.48 L-481.97 -18.48 L-479.33 -17.6 L-478.45 -16.72 L-477.57 -14.96 L-477.57 -13.2 L-478.45 -11.44 L-479.33 -10.56 L-481.97 -9.68 L-489.01 -9.68M-481.97 -18.48 L-480.21 -17.6 L-479.33 -16.72 L-478.45 -14.96 L-478.45 -13.2 L-479.33 -11.44 L-480.21 -10.56 L-481.97 -9.68M-492.53 0 L-486.37 0M-484.61 -9.68 L-482.85 -8.8 L-481.97 -7.92 L-479.33 -1.76 L-478.45 -0.88 L-477.57 -0.88 L-476.69 -1.76M-482.85 -8.8 L-481.97 -7.04 L-480.21 -0.88 L-479.33 0 L-477.57 0 L-476.69 -1.76 L-476.69 -2.64M-456.65 -22 L-456.65 6.16M-455.77 -22 L-455.77 6.16M-456.65 -22 L-450.49 -22M-456.65 6.16 L-450.49 6.16M-443.45 -18.48 L-443.45 0M-442.57 -18.48 L-437.29 -2.64M-443.45 -18.48 L-437.29 0M-431.13 -18.48 L-437.29 0M-431.13 -18.48 L-431.13 0M-430.25 -18.48 L-430.25 0M-446.09 -18.48 L-442.57 -18.48M-431.13 -18.48 L-427.61 -18.48M-446.09 0 L-440.81 0M-433.77 0 L-427.61 0M-394.79 -12.32 L-389.51 0M-393.91 -12.32 L-389.51 -1.76M-384.23 -12.32 L-389.51 0 L-391.27 3.52 L-393.03 5.28 L-394.79 6.16 L-395.67 6.16 L-396.55 5.28 L-395.67 4.4 L-394.79 5.28M-396.55 -12.32 L-391.27 -12.32M-387.75 -12.32 L-382.47 -12.32M-377.19 -12.32 L-377.19 0M-376.31 -12.32 L-376.31 0M-376.31 -7.04 L-375.43 -9.68 L-373.67 -11.44 L-371.91 -12.32 L-369.27 -12.32 L-368.39 -11.44 L-368.39 -10.56 L-369.27 -9.68 L-370.15 -10.56 L-369.27 -11.44M-379.83 -12.32 L-376.31 -12.32M-379.83 0 L-373.67 0M-323.71 -18.48 L-323.71 0M-322.83 -18.48 L-317.55 -2.64M-323.71 -18.48 L-317.55 0M-311.39 -18.48 L-317.55 0M-311.39 -18.48 L-311.39 0M-310.51 -18.48 L-310.51 0M-326.35 -18.48 L-322.83 -18.48M-311.39 -18.48 L-307.87 -18.48M-326.35 0 L-321.07 0M-314.03 0 L-307.87 0M-301.71 -12.32 L-301.71 6.16M-300.83 -12.32 L-300.83 6.16M-300.83 -9.68 L-299.07 -11.44 L-297.31 -12.32 L-295.55 -12.32 L-292.91 -11.44 L-291.15 -9.68 L-290.27 -7.04 L-290.27 -5.28 L-291.15 -2.64 L-292.91 -0.88 L-295.55 0 L-297.31 0 L-299.07 -0.88 L-300.83 -2.64M-295.55 -12.32 L-293.79 -11.44 L-292.03 -9.68 L-291.15 -7.04 L-291.15 -5.28 L-292.03 -2.64 L-293.79 -0.88 L-295.55 0M-304.35 -12.32 L-300.83 -12.32M-304.35 6.16 L-298.19 6.16M-274.43 -9.68 L-275.31 -8.8 L-274.43 -7.92 L-273.55 -8.8 L-273.55 -9.68 L-275.31 -11.44 L-277.07 -12.32 L-279.71 -12.32 L-282.35 -11.44 L-284.11 -9.68 L-284.99 -7.04 L-284.99 -5.28 L-284.11 -2.64 L-282.35 -0.88 L-279.71 0 L-277.95 0 L-275.31 -0.88 L-273.55 -2.64M-279.71 -12.32 L-281.47 -11.44 L-283.23 -9.68 L-284.11 -7.04 L-284.11 -5.28 L-283.23 -2.64 L-281.47 -0.88 L-279.71 0M-238.67 -22 L-238.67 6.16M-237.79 -22 L-237.79 6.16M-243.95 -22 L-237.79 -22M-243.95 6.16 L-237.79 6.16" stroke-width="1.3"/><path d="M-349.85 -17.34 L-348.81 -17.86 L-347.25 -19.42 L-347.25 -8.5M-347.77 -18.9 L-347.77 -8.5M-349.85 -8.5 L-345.17 -8.5M-254.73 -17.34 L-254.21 -16.82 L-254.73 -16.3 L-255.25 -16.82 L-255.25 -17.34 L-254.73 -18.38 L-254.21 -18.9 L-252.65 -19.42 L-250.57 -19.42 L-249.01 -18.9 L-248.49 -17.86 L-248.49 -16.3 L-249.01 -15.26 L-250.57 -14.74 L-252.13 -14.74M-250.57 -19.42 L-249.53 -18.9 L-249.01 -17.86 L-249.01 -16.3 L-249.53 -15.26 L-250.57 -14.74M-250.57 -14.74 L-249.53 -14.22 L-248.49 -13.18 L-247.97 -12.14 L-247.97 -10.58 L-248.49 -9.54 L-249.01 -9.02 L-250.57 -8.5 L-252.65 -8.5 L-254.21 -9.02 L-254.73 -9.54 L-255.25 -10.58 L-255.25 -11.1 L-254.73 -11.62 L-254.21 -11.1 L-254.73 -10.58M-249.01 -13.7 L-248.49 -12.14 L-248.49 -10.58 L-249.01 -9.54 L-249.53 -9.02 L-250.57 -8.5M-363.35 -13.18H-355.15M-268.15 -13.18H-259.95" stroke-width="1.1"/></g>
<circle cx="26.2" cy="419.3" r="5.4" fill="none" stroke="#000" stroke-width="1.1"/><circle cx="26.2" cy="419.3" r="1.25" fill="#000"/>
</svg>
</body></html>
